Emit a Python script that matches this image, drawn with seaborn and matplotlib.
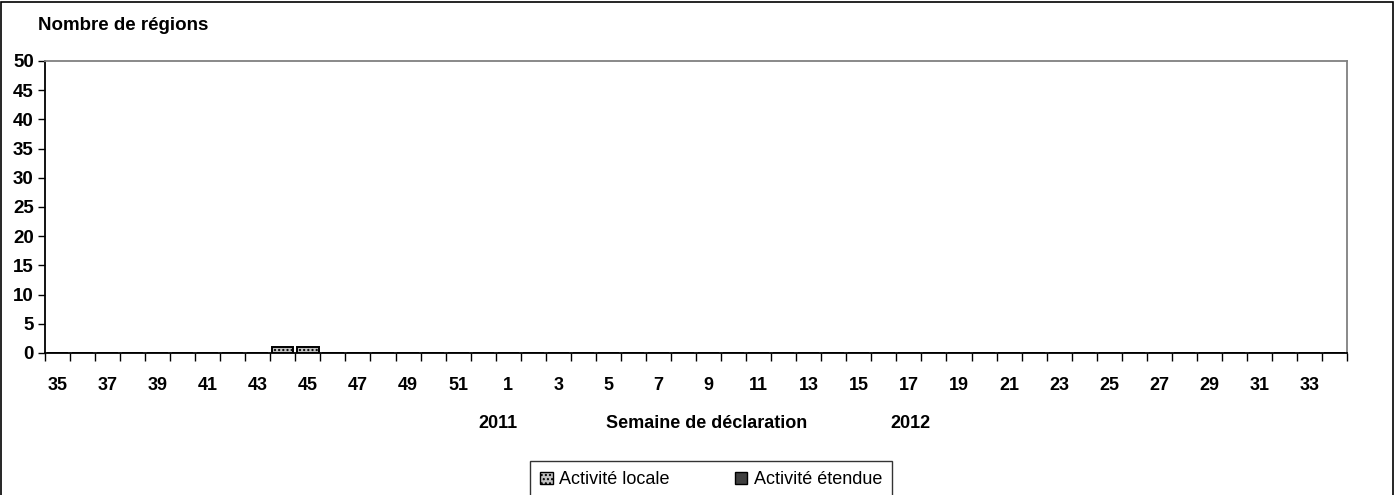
import pandas as pd
import numpy as np
import matplotlib.pyplot as plt
import seaborn as sns
from matplotlib.patches import Patch, Rectangle

# ---------------- Data ----------------
weeks = [str(w) for w in range(35, 53)] + [str(w) for w in range(1, 35)]
local = [0] * 52
local[weeks.index("44")] = 1
local[weeks.index("45")] = 1
etendue = [0] * 52

df = pd.DataFrame({
    "Semaine": weeks * 2,
    "Nombre": local + etendue,
    "Type": ["Activité locale"] * 52 + ["Activité étendue"] * 52,
})

sns.set_style("white")
plt.rcParams["font.family"] = ["Liberation Sans", "DejaVu Sans"]
plt.rcParams["text.color"] = "black"
plt.rcParams["xtick.color"] = "black"
plt.rcParams["ytick.color"] = "black"
plt.rcParams["hatch.color"] = "white"
plt.rcParams["hatch.linewidth"] = 1.0

fig = plt.figure(figsize=(13.96, 4.95), dpi=100)
ax = fig.add_axes([0.0322, 0.2869, 0.9328, 0.5899])

sns.barplot(data=df[df["Type"] == "Activité locale"], x="Semaine", y="Nombre",
            order=weeks, color="#c4c4c4", width=0.85, edgecolor="black",
            linewidth=1.4, hatch="....", ax=ax)

sns.barplot(data=df[df["Type"] == "Activité étendue"], x="Semaine", y="Nombre",
            order=weeks, color="#404040", width=0.85, linewidth=0, ax=ax)

ax.set_xlim(-0.5, 51.5)
ax.set_ylim(0, 50)
ax.set_yticks(np.arange(0, 51, 5))
ax.set_yticklabels([str(v) for v in range(0, 51, 5)], fontsize=13.5, fontweight="bold")
ax.set_xticks(range(0, 52, 2))
ax.set_xticklabels(weeks[::2], fontsize=13, fontweight="bold")
ax.set_xticks(np.arange(-0.5, 52, 1), minor=True)
ax.tick_params(axis="x", which="major", bottom=True, length=0, pad=17)
ax.tick_params(axis="x", which="minor", bottom=True, length=6, width=1,
               color="black", direction="out")
ax.tick_params(axis="y", left=True, length=5, width=1, color="black",
               direction="out", pad=3)
ax.set_xlabel("")
ax.set_ylabel("")

for s in ["left", "bottom"]:
    ax.spines[s].set_color("black")
    ax.spines[s].set_linewidth(1.3)
for s in ["top", "right"]:
    ax.spines[s].set_color("#808080")
    ax.spines[s].set_linewidth(1.3)

fig.text(0.027, 0.948, "Nombre de régions", fontsize=13.5, fontweight="bold",
         ha="left", va="center")
fig.text(0.506, 0.145, "Semaine de déclaration", fontsize=13, fontweight="bold",
         ha="center", va="center")
fig.text(0.357, 0.145, "2011", fontsize=13, fontweight="bold", ha="center", va="center")
fig.text(0.652, 0.145, "2012", fontsize=13, fontweight="bold", ha="center", va="center")

handles = [Patch(facecolor="#c4c4c4", edgecolor="black", hatch="...."),
           Patch(facecolor="#404040", edgecolor="black")]
leg = fig.legend(handles, ["Activité locale", "Activité étendue"], ncol=2,
                 loc="upper center", bbox_to_anchor=(0.5095, 0.068),
                 fontsize=13, frameon=True, fancybox=False, edgecolor="black",
                 handlelength=0.7, handleheight=0.7, handletextpad=0.35,
                 columnspacing=3.6, borderpad=0.55, borderaxespad=0)
leg.get_frame().set_linewidth(1.0)
for t in leg.get_texts():
    t.set_color("black")

fig.patches.append(Rectangle((0.001, -0.01), 0.997, 1.006, transform=fig.transFigure,
                             fill=False, edgecolor="black", linewidth=1.2))

fig.savefig("out.png", dpi=100)
